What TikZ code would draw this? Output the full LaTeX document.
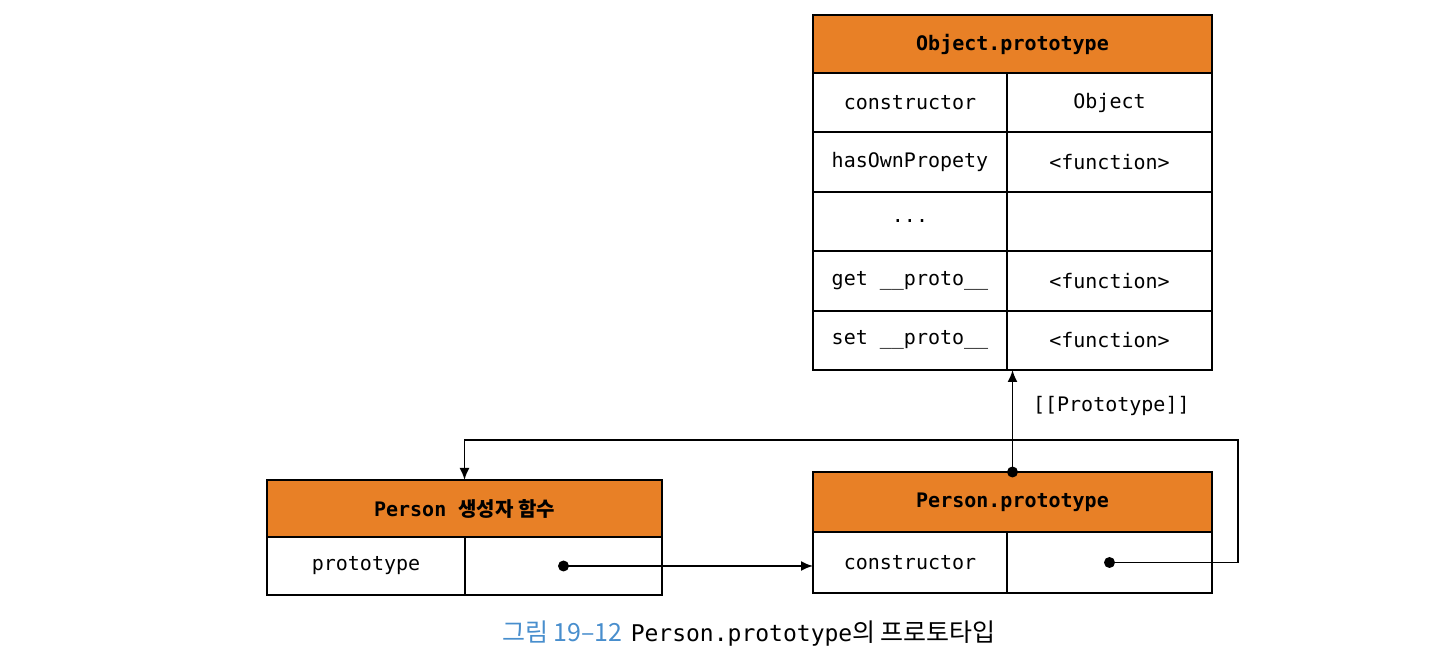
\documentclass[tikz,border=0pt]{standalone}
\usepackage{fontspec}
\setmonofont{DejaVu Sans Mono}
\newfontfamily\krfont{Noto Sans CJK KR}
\usepackage{tikz}
\usetikzlibrary{arrows.meta}
\usetikzlibrary{positioning}
\definecolor{headorange}{RGB}{232,128,38}
\definecolor{capblue}{RGB}{72,142,205}
\tikzset{
  head/.style={draw, line width=1pt, fill=headorange, inner sep=0, outer sep=0, font=\ttfamily\bfseries\fontsize{10}{12}\selectfont},
  keycell/.style={draw, line width=1pt, fill=white, inner sep=0, outer sep=0, minimum width=97pt, minimum height=29.7pt, font=\ttfamily\fontsize{10}{12}\selectfont},
  valcell/.style={keycell, minimum width=102.5pt},
  link/.style={line width=0.9pt, -{Latex[length=6pt,width=5pt]}},
  dot/.style={circle, fill=black, inner sep=0, minimum size=5.5pt}
}

\begin{document}
\begin{tikzpicture}[x=0.5pt, y=-0.5pt]
  \useasboundingbox (0,0) rectangle (1440,667);

  % Object.prototype
  \node[head, minimum width=199.5pt, minimum height=29pt, anchor=north west] (objhead) at (813,15) {Object.prototype};
  \node[keycell, below=0pt of objhead.south west, anchor=north west] (objk1) {constructor};
  \node[valcell, right=0pt of objk1] (objv1) {Object};
  \node[keycell, below=0pt of objk1] (objk2) {hasOwnPropety};
  \node[valcell, right=0pt of objk2] (objv2) {<function>};
  \node[keycell, below=0pt of objk2] (objk3) {...};
  \node[valcell, right=0pt of objk3] (objv3) {};
  \node[keycell, below=0pt of objk3] (objk4) {get \_\_proto\_\_};
  \node[valcell, right=0pt of objk4] (objv4) {<function>};
  \node[keycell, below=0pt of objk4] (objk5) {set \_\_proto\_\_};
  \node[valcell, right=0pt of objk5] (objv5) {<function>};

  % Person constructor function
  \node[head, minimum width=197.5pt, minimum height=28.5pt, anchor=north west] (pchead) at (267,480) {Person {\krfont\bfseries 생성자 함수}};
  \node[keycell, minimum width=99pt, minimum height=29pt, below=0pt of pchead.south west, anchor=north west] (pck) {prototype};
  \node[keycell, minimum width=98.5pt, minimum height=29pt, right=0pt of pck] (pcv) {};

  % Person.prototype
  \node[head, minimum width=199.5pt, minimum height=30pt, anchor=north west] (pphead) at (813,472) {Person.prototype};
  \node[keycell, minimum height=30.5pt, below=0pt of pphead.south west, anchor=north west] (ppk) {constructor};
  \node[valcell, minimum height=30.5pt, right=0pt of ppk] (ppv) {};

  % Connections
  \node[dot] (protodot) at (pphead.north) {};
  \draw[link] (protodot.center) -- (protodot.center |- objv5.south) node[pos=0.65, right=6.5pt, font=\ttfamily\fontsize{10}{12}\selectfont] {[[Prototype]]};

  \node[dot] (pcdot) at (pcv.center) {};
  \draw[link] (pcdot.center) -- (pcdot.center -| ppk.west);

  \node[dot] (ppdot) at (ppv.center) {};
  \coordinate (loopcorner) at (1238,440);
  \draw[link] (ppdot.center) -| (loopcorner) -| (pchead.north);

  % Caption
  \node (caption) at (749,634) {\fontsize{12.5}{15}\selectfont{\krfont\color{capblue}그림 19–12} {\ttfamily\fontsize{11.5}{14}\selectfont Person.prototype}{\krfont 의 프로토타입}};
\end{tikzpicture}
\end{document}
